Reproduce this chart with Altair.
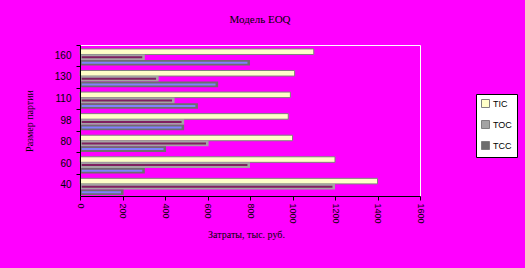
import altair as alt
import pandas as pd

sizes = ["160", "130", "110", "98", "80", "60", "40"]
series = ["TIC", "TOC", "TCC"]
tic = [1100, 1010, 990, 980, 1000, 1200, 1400]
toc = [305, 370, 445, 490, 605, 800, 1200]
tcc = [800, 650, 555, 490, 405, 305, 205]
x_ticks = [0, 200, 400, 600, 800, 1000, 1200, 1400, 1600]

rows = []
for i, s in enumerate(sizes):
    rows.append({"size": s, "series": "TIC", "value": tic[i]})
    rows.append({"size": s, "series": "TOC", "value": toc[i]})
    rows.append({"size": s, "series": "TCC", "value": tcc[i]})
df = pd.DataFrame(rows)

outer_colors = ["#FFFFC8", "#A4A4A4", "#6E6E6E"]

y_enc = alt.Y(
    "size:N",
    sort=sizes,
    scale=alt.Scale(paddingInner=0, paddingOuter=0),
    axis=alt.Axis(
        title="Размер партии",
        titleFont="Liberation Serif",
        titleFontSize=10,
        titleFontWeight="normal",
        titleColor="black",
        titleAngle=-90,
        titleBaseline="middle",
        titleX=-51,
        titleY=75.5,
        labelFont="Liberation Sans",
        labelFontSize=10,
        labelColor="black",
        labelPadding=5,
        tickSize=4,
        tickColor="black",
        domainColor="black",
        bandPosition=0,
        zindex=1,
    ),
)
yoff = alt.YOffset(
    "series:N",
    sort=series,
    scale=alt.Scale(domain=series, paddingOuter=0.44, paddingInner=0, align=0.8),
)
x_scale = alt.Scale(domain=[0, 1600], nice=False)
x_axis = alt.Axis(
    values=x_ticks,
    format="d",
    title="Затраты, тыс. руб.",
    titleFont="Liberation Serif",
    titleFontSize=10,
    titleFontWeight="normal",
    titleColor="black",
    titleBaseline="middle",
    titleX=166,
    titleY=38,
    labelAngle=90,
    labelFont="Liberation Sans",
    labelFontSize=9,
    labelColor="black",
    labelPadding=3,
    tickSize=4,
    tickColor="black",
    domainColor="black",
    grid=False,
    zindex=1,
)

base = alt.Chart(df)

outer = base.mark_bar(stroke="#808080", strokeWidth=1).encode(
    x=alt.X("value:Q", scale=x_scale, axis=x_axis),
    x2=alt.datum(0),
    y=y_enc,
    yOffset=yoff,
    color=alt.Color(
        "series:N",
        sort=series,
        scale=alt.Scale(domain=series, range=outer_colors),
        legend=alt.Legend(
            title=None,
            orient="none",
            legendX=396,
            legendY=49,
            fillColor="white",
            strokeColor="black",
            padding=5,
            cornerRadius=0,
            symbolType="square",
            symbolSize=64,
            symbolStrokeColor="#808080",
            symbolStrokeWidth=1,
            labelFont="Liberation Sans",
            labelFontSize=9,
            labelColor="black",
            labelOffset=3,
            rowPadding=8,
        ),
    ),
    strokeOpacity=alt.condition(alt.datum.series == "TIC", alt.value(1), alt.value(0)),
)

inner = base.transform_filter(alt.datum.series != "TIC").transform_calculate(
    start="8", end="datum.value - 12"
).mark_bar(yOffset=-0.5, size=2).encode(
    x=alt.X("start:Q", scale=x_scale),
    x2="end:Q",
    y=alt.Y("size:N", sort=sizes),
    yOffset=yoff,
    color=alt.Color(
        "series:N",
        scale=alt.Scale(domain=["TOC", "TCC"], range=["#802060", "#8080FF"]),
        legend=None,
    ),
)

chart = (
    alt.layer(outer, inner)
    .resolve_scale(color="independent")
    .properties(
        width=340,
        height=151,
        padding={"left": 80, "top": 45, "right": 105, "bottom": 72},
        autosize=alt.AutoSizeParams(type="none"),
        background="#FF00FF",
        title=alt.TitleParams(
            "Модель EOQ",
            font="Liberation Serif",
            fontSize=11,
            fontWeight="normal",
            color="black",
            anchor="middle",
            frame="group",
            offset=20,
            dx=10,
        ),
    )
    .configure_view(stroke="white", strokeWidth=1)
)

chart.save("out.html", embed_options={"renderer": "svg", "actions": False})
